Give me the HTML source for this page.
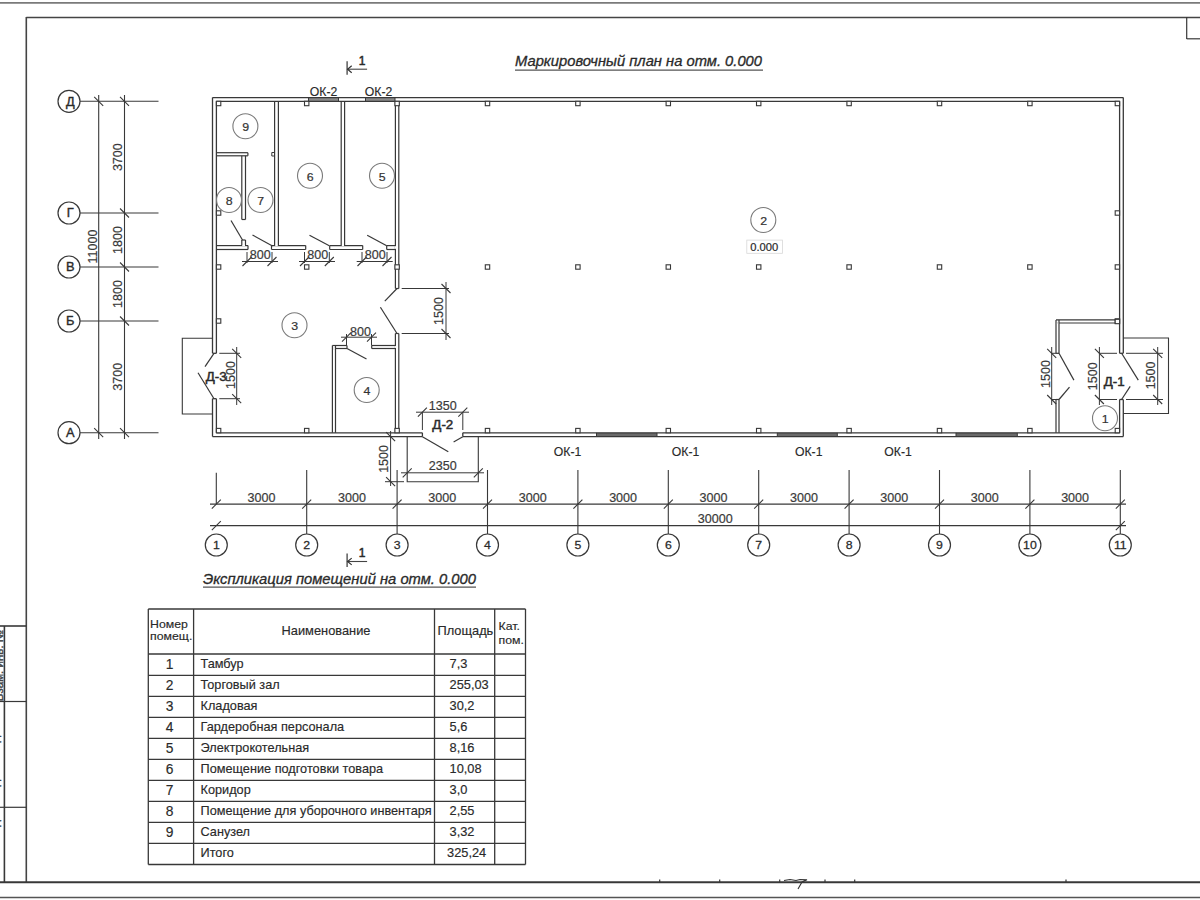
<!DOCTYPE html>
<html><head><meta charset="utf-8"><style>
html,body{margin:0;padding:0;background:#fff;width:1200px;height:900px;overflow:hidden}
svg{display:block}
text{font-family:"Liberation Sans",sans-serif}
</style></head><body>
<svg width="1200" height="900" viewBox="0 0 1200 900">
<rect width="1200" height="900" fill="#fff"/>
<line x1="0.0" y1="2.8" x2="1200.0" y2="2.8" stroke="#7a7a7a" stroke-width="1.8"/>
<line x1="26.3" y1="17.0" x2="26.3" y2="882.2" stroke="#444" stroke-width="1.6"/>
<line x1="26.3" y1="17.5" x2="1200.0" y2="17.5" stroke="#444" stroke-width="1.6"/>
<line x1="0.0" y1="882.2" x2="1200.0" y2="882.2" stroke="#383838" stroke-width="1.9"/>
<line x1="0.0" y1="897.5" x2="1200.0" y2="897.5" stroke="#555" stroke-width="1.4"/>
<line x1="1186.7" y1="17.0" x2="1186.7" y2="39.0" stroke="#383838" stroke-width="1.2"/>
<line x1="1186.7" y1="38.8" x2="1200.0" y2="38.8" stroke="#383838" stroke-width="1.2"/>
<line x1="0.0" y1="626.0" x2="26.3" y2="626.0" stroke="#383838" stroke-width="1.6"/>
<line x1="0.0" y1="701.5" x2="26.3" y2="701.5" stroke="#383838" stroke-width="1.2"/>
<line x1="0.0" y1="807.3" x2="26.3" y2="807.3" stroke="#383838" stroke-width="1.2"/>
<line x1="4.4" y1="626.0" x2="4.4" y2="882.0" stroke="#383838" stroke-width="1.6"/>
<text font-size="11.5" text-anchor="middle" fill="#444" stroke="#444" stroke-width="0.4" transform="translate(3.20,665.50) rotate(-90) scale(1.0,1)">Взам. инв. №</text>
<text font-size="11.5" text-anchor="middle" fill="#444" stroke="#444" stroke-width="0.4" transform="translate(-0.80,759.50) rotate(-90) scale(1.0,1)">Подпись и дата</text>
<text font-size="11.5" text-anchor="middle" fill="#444" stroke="#444" stroke-width="0.4" transform="translate(-0.80,846.00) rotate(-90) scale(1.0,1)">Инв. № подл.</text>
<line x1="659.7" y1="879.5" x2="659.7" y2="882.0" stroke="#383838" stroke-width="1.2"/>
<line x1="719.7" y1="879.5" x2="719.7" y2="882.0" stroke="#383838" stroke-width="1.2"/>
<line x1="779.7" y1="879.5" x2="779.7" y2="882.0" stroke="#383838" stroke-width="1.2"/>
<line x1="825.0" y1="879.5" x2="825.0" y2="882.0" stroke="#383838" stroke-width="1.2"/>
<line x1="854.7" y1="879.5" x2="854.7" y2="882.0" stroke="#383838" stroke-width="1.2"/>
<line x1="1066.0" y1="879.5" x2="1066.0" y2="882.0" stroke="#383838" stroke-width="1.2"/>
<path d="M784 880.5 L790 879.5 L796 880.5 L800 879.5 L807 879.8 L802 882 L798 889" stroke="#333" stroke-width="1.1" fill="none"/>
<circle cx="69.0" cy="101.3" r="11.0" stroke="#383838" stroke-width="1.2" fill="none"/>
<text font-size="12" text-anchor="middle" fill="#2a2a2a" stroke="#2a2a2a" stroke-width="0.35" transform="translate(70.30,105.50) scale(1.07,1)" >Д</text>
<line x1="80.0" y1="101.3" x2="158.5" y2="101.3" stroke="#383838" stroke-width="1.1"/>
<circle cx="69.0" cy="213.0" r="11.0" stroke="#383838" stroke-width="1.2" fill="none"/>
<text font-size="12" text-anchor="middle" fill="#2a2a2a" stroke="#2a2a2a" stroke-width="0.35" transform="translate(70.30,217.20) scale(1.07,1)" >Г</text>
<line x1="80.0" y1="213.0" x2="158.5" y2="213.0" stroke="#383838" stroke-width="1.1"/>
<circle cx="69.0" cy="267.0" r="11.0" stroke="#383838" stroke-width="1.2" fill="none"/>
<text font-size="12" text-anchor="middle" fill="#2a2a2a" stroke="#2a2a2a" stroke-width="0.35" transform="translate(70.30,271.20) scale(1.07,1)" >В</text>
<line x1="80.0" y1="267.0" x2="158.5" y2="267.0" stroke="#383838" stroke-width="1.1"/>
<circle cx="69.0" cy="321.0" r="11.0" stroke="#383838" stroke-width="1.2" fill="none"/>
<text font-size="12" text-anchor="middle" fill="#2a2a2a" stroke="#2a2a2a" stroke-width="0.35" transform="translate(70.30,325.20) scale(1.07,1)" >Б</text>
<line x1="80.0" y1="321.0" x2="158.5" y2="321.0" stroke="#383838" stroke-width="1.1"/>
<circle cx="69.0" cy="432.7" r="11.0" stroke="#383838" stroke-width="1.2" fill="none"/>
<text font-size="12" text-anchor="middle" fill="#2a2a2a" stroke="#2a2a2a" stroke-width="0.35" transform="translate(70.30,436.90) scale(1.07,1)" >А</text>
<line x1="80.0" y1="432.7" x2="158.5" y2="432.7" stroke="#383838" stroke-width="1.1"/>
<line x1="98.7" y1="95.0" x2="98.7" y2="439.0" stroke="#383838" stroke-width="1.1"/>
<line x1="124.5" y1="95.0" x2="124.5" y2="439.0" stroke="#383838" stroke-width="1.1"/>
<line x1="120.0" y1="96.8" x2="129.0" y2="105.8" stroke="#383838" stroke-width="1.1"/>
<line x1="120.0" y1="208.5" x2="129.0" y2="217.5" stroke="#383838" stroke-width="1.1"/>
<line x1="120.0" y1="262.5" x2="129.0" y2="271.5" stroke="#383838" stroke-width="1.1"/>
<line x1="120.0" y1="316.5" x2="129.0" y2="325.5" stroke="#383838" stroke-width="1.1"/>
<line x1="120.0" y1="428.2" x2="129.0" y2="437.2" stroke="#383838" stroke-width="1.1"/>
<line x1="94.2" y1="96.8" x2="103.2" y2="105.8" stroke="#383838" stroke-width="1.1"/>
<line x1="94.2" y1="428.2" x2="103.2" y2="437.2" stroke="#383838" stroke-width="1.1"/>
<text font-size="12.2" text-anchor="middle" fill="#3a3a3a" stroke="#3a3a3a" stroke-width="0.2" transform="translate(121.80,157.15) rotate(-90) scale(1.03,1)">3700</text>
<text font-size="12.2" text-anchor="middle" fill="#3a3a3a" stroke="#3a3a3a" stroke-width="0.2" transform="translate(121.80,240.00) rotate(-90) scale(1.03,1)">1800</text>
<text font-size="12.2" text-anchor="middle" fill="#3a3a3a" stroke="#3a3a3a" stroke-width="0.2" transform="translate(121.80,294.00) rotate(-90) scale(1.03,1)">1800</text>
<text font-size="12.2" text-anchor="middle" fill="#3a3a3a" stroke="#3a3a3a" stroke-width="0.2" transform="translate(121.80,376.85) rotate(-90) scale(1.03,1)">3700</text>
<text font-size="12.2" text-anchor="middle" fill="#3a3a3a" stroke="#3a3a3a" stroke-width="0.2" transform="translate(96.50,246.50) rotate(-90) scale(1.03,1)">11000</text>
<line x1="216.3" y1="472.8" x2="216.3" y2="504.1" stroke="#383838" stroke-width="1.1"/>
<line x1="211.8" y1="508.6" x2="220.8" y2="499.6" stroke="#383838" stroke-width="1.1"/>
<circle cx="216.3" cy="545.0" r="11.0" stroke="#383838" stroke-width="1.2" fill="none"/>
<text font-size="11.5" text-anchor="middle" fill="#2a2a2a" stroke="#2a2a2a" stroke-width="0.25" transform="translate(216.30,549.20) scale(1.07,1)" >1</text>
<line x1="306.7" y1="470.0" x2="306.7" y2="534.0" stroke="#383838" stroke-width="1.1"/>
<line x1="302.2" y1="508.6" x2="311.2" y2="499.6" stroke="#383838" stroke-width="1.1"/>
<circle cx="306.7" cy="545.0" r="11.0" stroke="#383838" stroke-width="1.2" fill="none"/>
<text font-size="11.5" text-anchor="middle" fill="#2a2a2a" stroke="#2a2a2a" stroke-width="0.25" transform="translate(306.70,549.20) scale(1.07,1)" >2</text>
<line x1="397.1" y1="470.0" x2="397.1" y2="534.0" stroke="#383838" stroke-width="1.1"/>
<line x1="392.6" y1="508.6" x2="401.6" y2="499.6" stroke="#383838" stroke-width="1.1"/>
<circle cx="397.1" cy="545.0" r="11.0" stroke="#383838" stroke-width="1.2" fill="none"/>
<text font-size="11.5" text-anchor="middle" fill="#2a2a2a" stroke="#2a2a2a" stroke-width="0.25" transform="translate(397.10,549.20) scale(1.07,1)" >3</text>
<line x1="487.5" y1="470.0" x2="487.5" y2="534.0" stroke="#383838" stroke-width="1.1"/>
<line x1="483.0" y1="508.6" x2="492.0" y2="499.6" stroke="#383838" stroke-width="1.1"/>
<circle cx="487.5" cy="545.0" r="11.0" stroke="#383838" stroke-width="1.2" fill="none"/>
<text font-size="11.5" text-anchor="middle" fill="#2a2a2a" stroke="#2a2a2a" stroke-width="0.25" transform="translate(487.50,549.20) scale(1.07,1)" >4</text>
<line x1="577.9" y1="470.0" x2="577.9" y2="534.0" stroke="#383838" stroke-width="1.1"/>
<line x1="573.4" y1="508.6" x2="582.4" y2="499.6" stroke="#383838" stroke-width="1.1"/>
<circle cx="577.9" cy="545.0" r="11.0" stroke="#383838" stroke-width="1.2" fill="none"/>
<text font-size="11.5" text-anchor="middle" fill="#2a2a2a" stroke="#2a2a2a" stroke-width="0.25" transform="translate(577.90,549.20) scale(1.07,1)" >5</text>
<line x1="668.3" y1="470.0" x2="668.3" y2="534.0" stroke="#383838" stroke-width="1.1"/>
<line x1="663.8" y1="508.6" x2="672.8" y2="499.6" stroke="#383838" stroke-width="1.1"/>
<circle cx="668.3" cy="545.0" r="11.0" stroke="#383838" stroke-width="1.2" fill="none"/>
<text font-size="11.5" text-anchor="middle" fill="#2a2a2a" stroke="#2a2a2a" stroke-width="0.25" transform="translate(668.30,549.20) scale(1.07,1)" >6</text>
<line x1="758.7" y1="470.0" x2="758.7" y2="534.0" stroke="#383838" stroke-width="1.1"/>
<line x1="754.2" y1="508.6" x2="763.2" y2="499.6" stroke="#383838" stroke-width="1.1"/>
<circle cx="758.7" cy="545.0" r="11.0" stroke="#383838" stroke-width="1.2" fill="none"/>
<text font-size="11.5" text-anchor="middle" fill="#2a2a2a" stroke="#2a2a2a" stroke-width="0.25" transform="translate(758.70,549.20) scale(1.07,1)" >7</text>
<line x1="849.1" y1="470.0" x2="849.1" y2="534.0" stroke="#383838" stroke-width="1.1"/>
<line x1="844.6" y1="508.6" x2="853.6" y2="499.6" stroke="#383838" stroke-width="1.1"/>
<circle cx="849.1" cy="545.0" r="11.0" stroke="#383838" stroke-width="1.2" fill="none"/>
<text font-size="11.5" text-anchor="middle" fill="#2a2a2a" stroke="#2a2a2a" stroke-width="0.25" transform="translate(849.10,549.20) scale(1.07,1)" >8</text>
<line x1="939.5" y1="470.0" x2="939.5" y2="534.0" stroke="#383838" stroke-width="1.1"/>
<line x1="935.0" y1="508.6" x2="944.0" y2="499.6" stroke="#383838" stroke-width="1.1"/>
<circle cx="939.5" cy="545.0" r="11.0" stroke="#383838" stroke-width="1.2" fill="none"/>
<text font-size="11.5" text-anchor="middle" fill="#2a2a2a" stroke="#2a2a2a" stroke-width="0.25" transform="translate(939.50,549.20) scale(1.07,1)" >9</text>
<line x1="1029.9" y1="470.0" x2="1029.9" y2="534.0" stroke="#383838" stroke-width="1.1"/>
<line x1="1025.4" y1="508.6" x2="1034.4" y2="499.6" stroke="#383838" stroke-width="1.1"/>
<circle cx="1029.9" cy="545.0" r="11.0" stroke="#383838" stroke-width="1.2" fill="none"/>
<text font-size="11.5" text-anchor="middle" fill="#2a2a2a" stroke="#2a2a2a" stroke-width="0.25" transform="translate(1029.90,549.20) scale(1.07,1)" >10</text>
<line x1="1120.3" y1="470.0" x2="1120.3" y2="534.0" stroke="#383838" stroke-width="1.1"/>
<line x1="1115.8" y1="508.6" x2="1124.8" y2="499.6" stroke="#383838" stroke-width="1.1"/>
<circle cx="1120.3" cy="545.0" r="11.0" stroke="#383838" stroke-width="1.2" fill="none"/>
<text font-size="11.5" text-anchor="middle" fill="#2a2a2a" stroke="#2a2a2a" stroke-width="0.25" transform="translate(1120.30,549.20) scale(1.07,1)" >11</text>
<line x1="210.0" y1="504.1" x2="1126.0" y2="504.1" stroke="#383838" stroke-width="1.1"/>
<line x1="210.0" y1="525.6" x2="1126.0" y2="525.6" stroke="#383838" stroke-width="1.1"/>
<line x1="211.8" y1="530.1" x2="220.8" y2="521.1" stroke="#383838" stroke-width="1.1"/>
<line x1="1115.8" y1="530.1" x2="1124.8" y2="521.1" stroke="#383838" stroke-width="1.1"/>
<text font-size="12.2" text-anchor="middle" fill="#3a3a3a" stroke="#3a3a3a" stroke-width="0.2" transform="translate(261.50,501.90) scale(1.03,1)" >3000</text>
<text font-size="12.2" text-anchor="middle" fill="#3a3a3a" stroke="#3a3a3a" stroke-width="0.2" transform="translate(351.90,501.90) scale(1.03,1)" >3000</text>
<text font-size="12.2" text-anchor="middle" fill="#3a3a3a" stroke="#3a3a3a" stroke-width="0.2" transform="translate(442.30,501.90) scale(1.03,1)" >3000</text>
<text font-size="12.2" text-anchor="middle" fill="#3a3a3a" stroke="#3a3a3a" stroke-width="0.2" transform="translate(532.70,501.90) scale(1.03,1)" >3000</text>
<text font-size="12.2" text-anchor="middle" fill="#3a3a3a" stroke="#3a3a3a" stroke-width="0.2" transform="translate(623.10,501.90) scale(1.03,1)" >3000</text>
<text font-size="12.2" text-anchor="middle" fill="#3a3a3a" stroke="#3a3a3a" stroke-width="0.2" transform="translate(713.50,501.90) scale(1.03,1)" >3000</text>
<text font-size="12.2" text-anchor="middle" fill="#3a3a3a" stroke="#3a3a3a" stroke-width="0.2" transform="translate(803.90,501.90) scale(1.03,1)" >3000</text>
<text font-size="12.2" text-anchor="middle" fill="#3a3a3a" stroke="#3a3a3a" stroke-width="0.2" transform="translate(894.30,501.90) scale(1.03,1)" >3000</text>
<text font-size="12.2" text-anchor="middle" fill="#3a3a3a" stroke="#3a3a3a" stroke-width="0.2" transform="translate(984.70,501.90) scale(1.03,1)" >3000</text>
<text font-size="12.2" text-anchor="middle" fill="#3a3a3a" stroke="#3a3a3a" stroke-width="0.2" transform="translate(1075.10,501.90) scale(1.03,1)" >3000</text>
<text font-size="12.2" text-anchor="middle" fill="#3a3a3a" stroke="#3a3a3a" stroke-width="0.2" transform="translate(715.30,522.50) scale(1.03,1)" >30000</text>
<line x1="347.1" y1="61.2" x2="347.1" y2="74.7" stroke="#444" stroke-width="1.3"/>
<line x1="347.1" y1="69.2" x2="367.1" y2="69.2" stroke="#444" stroke-width="1.1"/>
<path d="M351.7 65.8 L347.6 69.2 L351.7 72.7" stroke="#333" stroke-width="1.2" fill="none"/>
<text font-size="12" text-anchor="middle" fill="#2a2a2a" stroke="#2a2a2a" stroke-width="0.5" transform="translate(362.10,64.75) scale(1.0,1)" >1</text>
<line x1="347.1" y1="553.5" x2="347.1" y2="566.9" stroke="#444" stroke-width="1.3"/>
<line x1="347.1" y1="561.5" x2="367.1" y2="561.5" stroke="#444" stroke-width="1.1"/>
<path d="M351.7 558.1 L347.6 561.5 L351.7 564.9" stroke="#333" stroke-width="1.2" fill="none"/>
<text font-size="12" text-anchor="middle" fill="#2a2a2a" stroke="#2a2a2a" stroke-width="0.5" transform="translate(362.10,557.00) scale(1.0,1)" >1</text>
<text x="515" y="66.4" font-size="14.3" font-style="italic" fill="#2a2a2a" stroke="#2a2a2a" stroke-width="0.3" textLength="247" lengthAdjust="spacingAndGlyphs">Маркировочный план на отм. 0.000</text>
<line x1="515.0" y1="70.2" x2="763.0" y2="70.2" stroke="#555" stroke-width="1.2"/>
<text x="203" y="583.6" font-size="14" font-style="italic" fill="#2a2a2a" stroke="#2a2a2a" stroke-width="0.3" textLength="273" lengthAdjust="spacingAndGlyphs">Экспликация помещений на отм. 0.000</text>
<line x1="203.0" y1="587.2" x2="476.0" y2="587.2" stroke="#555" stroke-width="1.2"/>
<rect x="308.5" y="97.6" width="30.0" height="3.7" stroke="#383838" stroke-width="0" fill="#8a8a8a"/>
<line x1="308.5" y1="97.6" x2="308.5" y2="101.3" stroke="#383838" stroke-width="1"/>
<line x1="338.5" y1="97.6" x2="338.5" y2="101.3" stroke="#383838" stroke-width="1"/>
<rect x="365.5" y="97.6" width="29.5" height="3.7" stroke="#383838" stroke-width="0" fill="#8a8a8a"/>
<line x1="365.5" y1="97.6" x2="365.5" y2="101.3" stroke="#383838" stroke-width="1"/>
<line x1="395.0" y1="97.6" x2="395.0" y2="101.3" stroke="#383838" stroke-width="1"/>
<rect x="596.5" y="432.8" width="60.5" height="3.8" stroke="#383838" stroke-width="0" fill="#6a6a6a"/>
<line x1="596.5" y1="432.8" x2="596.5" y2="436.6" stroke="#383838" stroke-width="1"/>
<line x1="657.0" y1="432.8" x2="657.0" y2="436.6" stroke="#383838" stroke-width="1"/>
<rect x="777.3" y="432.8" width="60.0" height="3.8" stroke="#383838" stroke-width="0" fill="#6a6a6a"/>
<line x1="777.3" y1="432.8" x2="777.3" y2="436.6" stroke="#383838" stroke-width="1"/>
<line x1="837.3" y1="432.8" x2="837.3" y2="436.6" stroke="#383838" stroke-width="1"/>
<rect x="956.0" y="432.8" width="61.3" height="3.8" stroke="#383838" stroke-width="0" fill="#6a6a6a"/>
<line x1="956.0" y1="432.8" x2="956.0" y2="436.6" stroke="#383838" stroke-width="1"/>
<line x1="1017.3" y1="432.8" x2="1017.3" y2="436.6" stroke="#383838" stroke-width="1"/>
<line x1="212.5" y1="97.6" x2="1123.3" y2="97.6" stroke="#383838" stroke-width="1.3"/>
<line x1="216.4" y1="101.3" x2="1119.6" y2="101.3" stroke="#383838" stroke-width="1.3"/>
<line x1="212.5" y1="97.6" x2="212.5" y2="353.3" stroke="#383838" stroke-width="1.3"/>
<line x1="212.5" y1="398.7" x2="212.5" y2="436.6" stroke="#383838" stroke-width="1.3"/>
<line x1="216.4" y1="101.3" x2="216.4" y2="353.3" stroke="#383838" stroke-width="1.3"/>
<line x1="216.4" y1="398.7" x2="216.4" y2="432.8" stroke="#383838" stroke-width="1.3"/>
<line x1="212.5" y1="353.3" x2="216.4" y2="353.3" stroke="#383838" stroke-width="1.3"/>
<line x1="212.5" y1="398.7" x2="216.4" y2="398.7" stroke="#383838" stroke-width="1.3"/>
<line x1="212.5" y1="436.6" x2="422.4" y2="436.6" stroke="#383838" stroke-width="1.3"/>
<line x1="462.8" y1="436.6" x2="1123.3" y2="436.6" stroke="#383838" stroke-width="1.3"/>
<line x1="216.4" y1="432.8" x2="422.4" y2="432.8" stroke="#383838" stroke-width="1.3"/>
<line x1="462.8" y1="432.8" x2="1119.6" y2="432.8" stroke="#383838" stroke-width="1.3"/>
<line x1="422.4" y1="432.8" x2="422.4" y2="436.6" stroke="#383838" stroke-width="1.3"/>
<line x1="462.8" y1="432.8" x2="462.8" y2="436.6" stroke="#383838" stroke-width="1.3"/>
<line x1="1123.3" y1="97.6" x2="1123.3" y2="353.3" stroke="#383838" stroke-width="1.3"/>
<line x1="1123.3" y1="399.5" x2="1123.3" y2="436.6" stroke="#383838" stroke-width="1.3"/>
<line x1="1119.6" y1="101.3" x2="1119.6" y2="353.3" stroke="#383838" stroke-width="1.3"/>
<line x1="1119.6" y1="399.5" x2="1119.6" y2="432.8" stroke="#383838" stroke-width="1.3"/>
<line x1="1119.6" y1="353.3" x2="1123.3" y2="353.3" stroke="#383838" stroke-width="1.3"/>
<line x1="1119.6" y1="399.5" x2="1123.3" y2="399.5" stroke="#383838" stroke-width="1.3"/>
<line x1="274.6" y1="101.3" x2="274.6" y2="245.6" stroke="#383838" stroke-width="1.2"/>
<line x1="278.4" y1="101.3" x2="278.4" y2="245.6" stroke="#383838" stroke-width="1.2"/>
<line x1="341.2" y1="101.3" x2="341.2" y2="245.6" stroke="#383838" stroke-width="1.2"/>
<line x1="344.6" y1="101.3" x2="344.6" y2="245.6" stroke="#383838" stroke-width="1.2"/>
<line x1="395.4" y1="101.3" x2="395.4" y2="288.5" stroke="#383838" stroke-width="1.2"/>
<line x1="398.8" y1="101.3" x2="398.8" y2="288.5" stroke="#383838" stroke-width="1.2"/>
<line x1="395.4" y1="288.5" x2="398.8" y2="288.5" stroke="#383838" stroke-width="1.2"/>
<line x1="395.4" y1="333.5" x2="395.4" y2="432.8" stroke="#383838" stroke-width="1.2"/>
<line x1="398.8" y1="333.5" x2="398.8" y2="432.8" stroke="#383838" stroke-width="1.2"/>
<line x1="395.4" y1="333.5" x2="398.8" y2="333.5" stroke="#383838" stroke-width="1.2"/>
<line x1="241.8" y1="155.8" x2="241.8" y2="219.5" stroke="#383838" stroke-width="1.2"/>
<line x1="245.5" y1="155.8" x2="245.5" y2="219.5" stroke="#383838" stroke-width="1.2"/>
<line x1="241.8" y1="219.5" x2="245.5" y2="219.5" stroke="#383838" stroke-width="1.2"/>
<line x1="216.4" y1="152.7" x2="247.9" y2="152.7" stroke="#383838" stroke-width="1.2"/>
<line x1="216.4" y1="155.8" x2="247.9" y2="155.8" stroke="#383838" stroke-width="1.2"/>
<line x1="247.9" y1="152.7" x2="247.9" y2="155.8" stroke="#383838" stroke-width="1.2"/>
<line x1="241.8" y1="240.0" x2="241.8" y2="245.6" stroke="#383838" stroke-width="1.2"/>
<line x1="245.5" y1="240.0" x2="245.5" y2="245.6" stroke="#383838" stroke-width="1.2"/>
<line x1="241.8" y1="240.0" x2="245.5" y2="240.0" stroke="#383838" stroke-width="1.2"/>
<line x1="216.4" y1="245.6" x2="248.0" y2="245.6" stroke="#383838" stroke-width="1.2"/>
<line x1="216.4" y1="249.5" x2="248.0" y2="249.5" stroke="#383838" stroke-width="1.2"/>
<line x1="248.0" y1="245.6" x2="248.0" y2="249.5" stroke="#383838" stroke-width="1.2"/>
<line x1="271.5" y1="245.6" x2="305.7" y2="245.6" stroke="#383838" stroke-width="1.2"/>
<line x1="271.5" y1="249.5" x2="305.7" y2="249.5" stroke="#383838" stroke-width="1.2"/>
<line x1="271.5" y1="245.6" x2="271.5" y2="249.5" stroke="#383838" stroke-width="1.2"/>
<line x1="305.7" y1="245.6" x2="305.7" y2="249.5" stroke="#383838" stroke-width="1.2"/>
<line x1="329.7" y1="245.6" x2="362.7" y2="245.6" stroke="#383838" stroke-width="1.2"/>
<line x1="329.7" y1="249.5" x2="362.7" y2="249.5" stroke="#383838" stroke-width="1.2"/>
<line x1="329.7" y1="245.6" x2="329.7" y2="249.5" stroke="#383838" stroke-width="1.2"/>
<line x1="362.7" y1="245.6" x2="362.7" y2="249.5" stroke="#383838" stroke-width="1.2"/>
<line x1="386.7" y1="245.6" x2="395.4" y2="245.6" stroke="#383838" stroke-width="1.2"/>
<line x1="386.7" y1="249.5" x2="395.4" y2="249.5" stroke="#383838" stroke-width="1.2"/>
<line x1="386.7" y1="245.6" x2="386.7" y2="249.5" stroke="#383838" stroke-width="1.2"/>
<rect x="242.2" y="244.9" width="2.8" height="1.2" fill="#fff" stroke="none"/>
<rect x="275.2" y="244.9" width="2.6" height="1.2" fill="#fff" stroke="none"/>
<rect x="341.8" y="244.9" width="2.2" height="1.2" fill="#fff" stroke="none"/>
<rect x="394.7" y="246.2" width="1.3" height="2.6" fill="#fff" stroke="none"/>
<line x1="332.4" y1="345.5" x2="347.0" y2="345.5" stroke="#383838" stroke-width="1.2"/>
<line x1="332.4" y1="348.5" x2="347.0" y2="348.5" stroke="#383838" stroke-width="1.2"/>
<line x1="347.0" y1="345.5" x2="347.0" y2="348.5" stroke="#383838" stroke-width="1.2"/>
<line x1="371.7" y1="345.5" x2="395.4" y2="345.5" stroke="#383838" stroke-width="1.2"/>
<line x1="371.7" y1="348.5" x2="395.4" y2="348.5" stroke="#383838" stroke-width="1.2"/>
<line x1="371.7" y1="345.5" x2="371.7" y2="348.5" stroke="#383838" stroke-width="1.2"/>
<line x1="332.4" y1="345.5" x2="332.4" y2="432.8" stroke="#383838" stroke-width="1.2"/>
<line x1="335.5" y1="345.5" x2="335.5" y2="432.8" stroke="#383838" stroke-width="1.2"/>
<rect x="333.1" y="347.9" width="1.8" height="1.2" fill="#fff" stroke="none"/>
<rect x="394.7" y="346.1" width="1.3" height="1.8" fill="#fff" stroke="none"/>
<line x1="1056.0" y1="319.9" x2="1056.0" y2="353.3" stroke="#383838" stroke-width="1.2"/>
<line x1="1059.0" y1="319.9" x2="1059.0" y2="353.3" stroke="#383838" stroke-width="1.2"/>
<line x1="1056.0" y1="353.3" x2="1059.0" y2="353.3" stroke="#383838" stroke-width="1.2"/>
<line x1="1056.0" y1="399.5" x2="1056.0" y2="432.8" stroke="#383838" stroke-width="1.2"/>
<line x1="1059.0" y1="399.5" x2="1059.0" y2="432.8" stroke="#383838" stroke-width="1.2"/>
<line x1="1056.0" y1="399.5" x2="1059.0" y2="399.5" stroke="#383838" stroke-width="1.2"/>
<line x1="1056.0" y1="319.9" x2="1119.6" y2="319.9" stroke="#383838" stroke-width="1.2"/>
<line x1="1056.0" y1="323.0" x2="1119.6" y2="323.0" stroke="#383838" stroke-width="1.2"/>
<rect x="1056.6" y="322.4" width="1.8" height="1.3" fill="#fff" stroke="none"/>
<path d="M274.6 152.5 L271.8 152.5 L271.8 156 L274.6 156" stroke="#383838" stroke-width="1" fill="none"/>
<path d="M212.5 338.3 L182.3 338.3 L182.3 414 L212.5 414" stroke="#383838" stroke-width="1.1" fill="none"/>
<path d="M407.2 436.6 L407.2 481.7 L478.3 481.7 L478.3 436.6" stroke="#383838" stroke-width="1.1" fill="none"/>
<path d="M1123.3 338 L1168.5 338 L1168.5 413.5 L1123.3 413.5" stroke="#383838" stroke-width="1.1" fill="none"/>
<line x1="214.0" y1="353.3" x2="205.0" y2="366.7" stroke="#383838" stroke-width="1.2"/>
<line x1="214.0" y1="398.7" x2="198.0" y2="372.7" stroke="#383838" stroke-width="1.2"/>
<line x1="422.4" y1="436.7" x2="448.3" y2="451.7" stroke="#383838" stroke-width="1.2"/>
<line x1="462.8" y1="436.7" x2="453.6" y2="442.0" stroke="#383838" stroke-width="1.2"/>
<line x1="1121.6" y1="353.3" x2="1138.3" y2="380.1" stroke="#383838" stroke-width="1.2"/>
<line x1="1121.6" y1="399.5" x2="1130.2" y2="386.3" stroke="#383838" stroke-width="1.2"/>
<line x1="1059.0" y1="353.3" x2="1073.9" y2="380.1" stroke="#383838" stroke-width="1.2"/>
<line x1="1059.0" y1="399.5" x2="1069.5" y2="387.1" stroke="#383838" stroke-width="1.2"/>
<line x1="397.0" y1="288.5" x2="384.8" y2="301.2" stroke="#383838" stroke-width="1.2"/>
<line x1="397.0" y1="333.5" x2="380.4" y2="307.2" stroke="#383838" stroke-width="1.2"/>
<line x1="231.0" y1="220.5" x2="242.5" y2="240.0" stroke="#383838" stroke-width="1.2"/>
<line x1="252.5" y1="235.0" x2="272.5" y2="246.0" stroke="#383838" stroke-width="1.2"/>
<line x1="309.5" y1="235.2" x2="329.3" y2="245.7" stroke="#383838" stroke-width="1.2"/>
<line x1="367.2" y1="235.2" x2="386.7" y2="245.7" stroke="#383838" stroke-width="1.2"/>
<line x1="347.0" y1="348.5" x2="366.5" y2="359.0" stroke="#383838" stroke-width="1.2"/>
<line x1="242.0" y1="261.5" x2="278.0" y2="261.5" stroke="#383838" stroke-width="1.0"/>
<line x1="242.5" y1="266.0" x2="251.5" y2="257.0" stroke="#383838" stroke-width="1.1"/>
<line x1="267.5" y1="266.0" x2="276.5" y2="257.0" stroke="#383838" stroke-width="1.1"/>
<line x1="247.0" y1="252.0" x2="247.0" y2="263.0" stroke="#383838" stroke-width="1.0"/>
<line x1="272.0" y1="252.0" x2="272.0" y2="263.0" stroke="#383838" stroke-width="1.0"/>
<text font-size="12.2" text-anchor="middle" fill="#3a3a3a" stroke="#3a3a3a" stroke-width="0.2" transform="translate(260.30,259.30) scale(1.03,1)" >800</text>
<line x1="299.0" y1="261.5" x2="335.0" y2="261.5" stroke="#383838" stroke-width="1.0"/>
<line x1="300.0" y1="266.0" x2="309.0" y2="257.0" stroke="#383838" stroke-width="1.1"/>
<line x1="324.8" y1="266.0" x2="333.8" y2="257.0" stroke="#383838" stroke-width="1.1"/>
<line x1="304.5" y1="252.0" x2="304.5" y2="263.0" stroke="#383838" stroke-width="1.0"/>
<line x1="329.3" y1="252.0" x2="329.3" y2="263.0" stroke="#383838" stroke-width="1.0"/>
<text font-size="12.2" text-anchor="middle" fill="#3a3a3a" stroke="#3a3a3a" stroke-width="0.2" transform="translate(317.70,259.30) scale(1.03,1)" >800</text>
<line x1="356.7" y1="261.5" x2="392.7" y2="261.5" stroke="#383838" stroke-width="1.0"/>
<line x1="357.5" y1="266.0" x2="366.5" y2="257.0" stroke="#383838" stroke-width="1.1"/>
<line x1="382.5" y1="266.0" x2="391.5" y2="257.0" stroke="#383838" stroke-width="1.1"/>
<line x1="362.0" y1="252.0" x2="362.0" y2="263.0" stroke="#383838" stroke-width="1.0"/>
<line x1="387.0" y1="252.0" x2="387.0" y2="263.0" stroke="#383838" stroke-width="1.0"/>
<text font-size="12.2" text-anchor="middle" fill="#3a3a3a" stroke="#3a3a3a" stroke-width="0.2" transform="translate(375.30,259.30) scale(1.03,1)" >800</text>
<line x1="341.0" y1="337.2" x2="377.0" y2="337.2" stroke="#383838" stroke-width="1.0"/>
<line x1="342.0" y1="341.7" x2="351.0" y2="332.7" stroke="#383838" stroke-width="1.1"/>
<line x1="367.0" y1="341.7" x2="376.0" y2="332.7" stroke="#383838" stroke-width="1.1"/>
<text font-size="12.2" text-anchor="middle" fill="#3a3a3a" stroke="#3a3a3a" stroke-width="0.2" transform="translate(360.50,335.50) scale(1.03,1)" >800</text>
<line x1="346.5" y1="334.0" x2="346.5" y2="345.5" stroke="#383838" stroke-width="1.0"/>
<line x1="371.5" y1="334.0" x2="371.5" y2="345.5" stroke="#383838" stroke-width="1.0"/>
<line x1="401.7" y1="288.5" x2="449.0" y2="288.5" stroke="#383838" stroke-width="1.0"/>
<line x1="401.7" y1="333.5" x2="449.0" y2="333.5" stroke="#383838" stroke-width="1.0"/>
<line x1="446.0" y1="282.0" x2="446.0" y2="340.0" stroke="#383838" stroke-width="1.0"/>
<line x1="441.5" y1="284.0" x2="450.5" y2="293.0" stroke="#383838" stroke-width="1.1"/>
<line x1="441.5" y1="329.0" x2="450.5" y2="338.0" stroke="#383838" stroke-width="1.1"/>
<text font-size="12.2" text-anchor="middle" fill="#3a3a3a" stroke="#3a3a3a" stroke-width="0.2" transform="translate(443.20,311.00) rotate(-90) scale(1.03,1)">1500</text>
<line x1="219.3" y1="353.3" x2="240.0" y2="353.3" stroke="#383838" stroke-width="1.0"/>
<line x1="219.3" y1="398.7" x2="240.0" y2="398.7" stroke="#383838" stroke-width="1.0"/>
<line x1="236.7" y1="347.0" x2="236.7" y2="405.0" stroke="#383838" stroke-width="1.0"/>
<line x1="232.2" y1="348.8" x2="241.2" y2="357.8" stroke="#383838" stroke-width="1.1"/>
<line x1="232.2" y1="394.2" x2="241.2" y2="403.2" stroke="#383838" stroke-width="1.1"/>
<text font-size="12.2" text-anchor="middle" fill="#3a3a3a" stroke="#3a3a3a" stroke-width="0.2" transform="translate(234.70,375.00) rotate(-90) scale(1.03,1)">1500</text>
<text font-size="12.5" text-anchor="middle" fill="#2a2a2a" stroke="#2a2a2a" stroke-width="0.45" transform="translate(216.20,381.00) scale(1.07,1)" >Д-3</text>
<line x1="416.0" y1="412.2" x2="469.0" y2="412.2" stroke="#383838" stroke-width="1.0"/>
<line x1="417.9" y1="416.7" x2="426.9" y2="407.7" stroke="#383838" stroke-width="1.1"/>
<line x1="458.3" y1="416.7" x2="467.3" y2="407.7" stroke="#383838" stroke-width="1.1"/>
<line x1="422.4" y1="412.0" x2="422.4" y2="430.0" stroke="#383838" stroke-width="1.0"/>
<line x1="462.8" y1="412.0" x2="462.8" y2="430.0" stroke="#383838" stroke-width="1.0"/>
<text font-size="12.2" text-anchor="middle" fill="#3a3a3a" stroke="#3a3a3a" stroke-width="0.2" transform="translate(442.80,409.70) scale(1.03,1)" >1350</text>
<text font-size="12.5" text-anchor="middle" fill="#2a2a2a" stroke="#2a2a2a" stroke-width="0.45" transform="translate(442.80,429.20) scale(1.07,1)" >Д-2</text>
<line x1="401.0" y1="472.8" x2="484.0" y2="472.8" stroke="#383838" stroke-width="1.0"/>
<line x1="402.7" y1="477.3" x2="411.7" y2="468.3" stroke="#383838" stroke-width="1.1"/>
<line x1="473.8" y1="477.3" x2="482.8" y2="468.3" stroke="#383838" stroke-width="1.1"/>
<text font-size="12.2" text-anchor="middle" fill="#3a3a3a" stroke="#3a3a3a" stroke-width="0.2" transform="translate(442.80,469.80) scale(1.03,1)" >2350</text>
<line x1="390.6" y1="431.0" x2="390.6" y2="486.0" stroke="#383838" stroke-width="1.0"/>
<line x1="386.1" y1="432.1" x2="395.1" y2="441.1" stroke="#383838" stroke-width="1.1"/>
<line x1="386.1" y1="477.2" x2="395.1" y2="486.2" stroke="#383838" stroke-width="1.1"/>
<line x1="385.0" y1="481.7" x2="404.0" y2="481.7" stroke="#383838" stroke-width="1.0"/>
<text font-size="12.2" text-anchor="middle" fill="#3a3a3a" stroke="#3a3a3a" stroke-width="0.2" transform="translate(388.40,458.90) rotate(-90) scale(1.03,1)">1500</text>
<line x1="1051.7" y1="347.0" x2="1051.7" y2="405.0" stroke="#383838" stroke-width="1.0"/>
<line x1="1047.2" y1="348.8" x2="1056.2" y2="357.8" stroke="#383838" stroke-width="1.1"/>
<line x1="1047.2" y1="395.0" x2="1056.2" y2="404.0" stroke="#383838" stroke-width="1.1"/>
<line x1="1099.4" y1="347.0" x2="1099.4" y2="405.0" stroke="#383838" stroke-width="1.0"/>
<line x1="1094.9" y1="348.8" x2="1103.9" y2="357.8" stroke="#383838" stroke-width="1.1"/>
<line x1="1094.9" y1="395.0" x2="1103.9" y2="404.0" stroke="#383838" stroke-width="1.1"/>
<line x1="1157.7" y1="347.0" x2="1157.7" y2="405.0" stroke="#383838" stroke-width="1.0"/>
<line x1="1153.2" y1="348.8" x2="1162.2" y2="357.8" stroke="#383838" stroke-width="1.1"/>
<line x1="1153.2" y1="395.0" x2="1162.2" y2="404.0" stroke="#383838" stroke-width="1.1"/>
<line x1="1099.4" y1="353.3" x2="1117.0" y2="353.3" stroke="#383838" stroke-width="1.0"/>
<line x1="1099.4" y1="399.5" x2="1117.0" y2="399.5" stroke="#383838" stroke-width="1.0"/>
<line x1="1126.0" y1="353.3" x2="1163.0" y2="353.3" stroke="#383838" stroke-width="1.0"/>
<line x1="1126.0" y1="399.5" x2="1163.0" y2="399.5" stroke="#383838" stroke-width="1.0"/>
<line x1="1051.7" y1="353.3" x2="1056.0" y2="353.3" stroke="#383838" stroke-width="1.0"/>
<line x1="1051.7" y1="399.5" x2="1056.0" y2="399.5" stroke="#383838" stroke-width="1.0"/>
<text font-size="12.2" text-anchor="middle" fill="#3a3a3a" stroke="#3a3a3a" stroke-width="0.2" transform="translate(1049.90,374.00) rotate(-90) scale(1.03,1)">1500</text>
<text font-size="12.2" text-anchor="middle" fill="#3a3a3a" stroke="#3a3a3a" stroke-width="0.2" transform="translate(1096.90,376.20) rotate(-90) scale(1.03,1)">1500</text>
<text font-size="12.2" text-anchor="middle" fill="#3a3a3a" stroke="#3a3a3a" stroke-width="0.2" transform="translate(1155.20,375.40) rotate(-90) scale(1.03,1)">1500</text>
<text font-size="12.5" text-anchor="middle" fill="#2a2a2a" stroke="#2a2a2a" stroke-width="0.45" transform="translate(1114.20,386.30) scale(1.07,1)" >Д-1</text>
<text font-size="12" text-anchor="middle" fill="#2a2a2a" stroke="#2a2a2a" stroke-width="0.15" transform="translate(323.50,95.80) scale(1.02,1)" >ОК-2</text>
<text font-size="12" text-anchor="middle" fill="#2a2a2a" stroke="#2a2a2a" stroke-width="0.15" transform="translate(378.60,95.80) scale(1.02,1)" >ОК-2</text>
<text font-size="12" text-anchor="middle" fill="#2a2a2a" stroke="#2a2a2a" stroke-width="0.15" transform="translate(567.50,455.70) scale(1.02,1)" >ОК-1</text>
<text font-size="12" text-anchor="middle" fill="#2a2a2a" stroke="#2a2a2a" stroke-width="0.15" transform="translate(685.50,455.70) scale(1.02,1)" >ОК-1</text>
<text font-size="12" text-anchor="middle" fill="#2a2a2a" stroke="#2a2a2a" stroke-width="0.15" transform="translate(808.70,455.70) scale(1.02,1)" >ОК-1</text>
<text font-size="12" text-anchor="middle" fill="#2a2a2a" stroke="#2a2a2a" stroke-width="0.15" transform="translate(898.00,455.70) scale(1.02,1)" >ОК-1</text>
<rect x="216.4" y="101.3" width="4.4" height="4.4" stroke="#383838" stroke-width="1.1" fill="#fff"/>
<rect x="216.4" y="428.4" width="4.4" height="4.4" stroke="#383838" stroke-width="1.1" fill="#fff"/>
<rect x="216.4" y="264.8" width="4.4" height="4.4" stroke="#383838" stroke-width="1.1" fill="#fff"/>
<rect x="304.5" y="101.3" width="4.4" height="4.4" stroke="#383838" stroke-width="1.1" fill="#fff"/>
<rect x="304.5" y="428.4" width="4.4" height="4.4" stroke="#383838" stroke-width="1.1" fill="#fff"/>
<rect x="304.5" y="264.8" width="4.4" height="4.4" stroke="#383838" stroke-width="1.1" fill="#fff"/>
<rect x="394.9" y="101.3" width="4.4" height="4.4" stroke="#383838" stroke-width="1.1" fill="#fff"/>
<rect x="394.9" y="428.4" width="4.4" height="4.4" stroke="#383838" stroke-width="1.1" fill="#fff"/>
<rect x="394.9" y="264.8" width="4.4" height="4.4" stroke="#383838" stroke-width="1.1" fill="#fff"/>
<rect x="485.3" y="101.3" width="4.4" height="4.4" stroke="#383838" stroke-width="1.1" fill="#fff"/>
<rect x="485.3" y="428.4" width="4.4" height="4.4" stroke="#383838" stroke-width="1.1" fill="#fff"/>
<rect x="485.3" y="264.8" width="4.4" height="4.4" stroke="#383838" stroke-width="1.1" fill="#fff"/>
<rect x="575.7" y="101.3" width="4.4" height="4.4" stroke="#383838" stroke-width="1.1" fill="#fff"/>
<rect x="575.7" y="428.4" width="4.4" height="4.4" stroke="#383838" stroke-width="1.1" fill="#fff"/>
<rect x="575.7" y="264.8" width="4.4" height="4.4" stroke="#383838" stroke-width="1.1" fill="#fff"/>
<rect x="666.1" y="101.3" width="4.4" height="4.4" stroke="#383838" stroke-width="1.1" fill="#fff"/>
<rect x="666.1" y="428.4" width="4.4" height="4.4" stroke="#383838" stroke-width="1.1" fill="#fff"/>
<rect x="666.1" y="264.8" width="4.4" height="4.4" stroke="#383838" stroke-width="1.1" fill="#fff"/>
<rect x="756.5" y="101.3" width="4.4" height="4.4" stroke="#383838" stroke-width="1.1" fill="#fff"/>
<rect x="756.5" y="428.4" width="4.4" height="4.4" stroke="#383838" stroke-width="1.1" fill="#fff"/>
<rect x="756.5" y="264.8" width="4.4" height="4.4" stroke="#383838" stroke-width="1.1" fill="#fff"/>
<rect x="846.9" y="101.3" width="4.4" height="4.4" stroke="#383838" stroke-width="1.1" fill="#fff"/>
<rect x="846.9" y="428.4" width="4.4" height="4.4" stroke="#383838" stroke-width="1.1" fill="#fff"/>
<rect x="846.9" y="264.8" width="4.4" height="4.4" stroke="#383838" stroke-width="1.1" fill="#fff"/>
<rect x="937.3" y="101.3" width="4.4" height="4.4" stroke="#383838" stroke-width="1.1" fill="#fff"/>
<rect x="937.3" y="428.4" width="4.4" height="4.4" stroke="#383838" stroke-width="1.1" fill="#fff"/>
<rect x="937.3" y="264.8" width="4.4" height="4.4" stroke="#383838" stroke-width="1.1" fill="#fff"/>
<rect x="1027.7" y="101.3" width="4.4" height="4.4" stroke="#383838" stroke-width="1.1" fill="#fff"/>
<rect x="1027.7" y="428.4" width="4.4" height="4.4" stroke="#383838" stroke-width="1.1" fill="#fff"/>
<rect x="1027.7" y="264.8" width="4.4" height="4.4" stroke="#383838" stroke-width="1.1" fill="#fff"/>
<rect x="1115.2" y="101.3" width="4.4" height="4.4" stroke="#383838" stroke-width="1.1" fill="#fff"/>
<rect x="1115.2" y="428.4" width="4.4" height="4.4" stroke="#383838" stroke-width="1.1" fill="#fff"/>
<rect x="1115.2" y="264.8" width="4.4" height="4.4" stroke="#383838" stroke-width="1.1" fill="#fff"/>
<rect x="216.4" y="210.8" width="4.4" height="4.4" stroke="#383838" stroke-width="1.1" fill="#fff"/>
<rect x="1115.2" y="210.8" width="4.4" height="4.4" stroke="#383838" stroke-width="1.1" fill="#fff"/>
<rect x="216.4" y="318.8" width="4.4" height="4.4" stroke="#383838" stroke-width="1.1" fill="#fff"/>
<rect x="1115.2" y="318.8" width="4.4" height="4.4" stroke="#383838" stroke-width="1.1" fill="#fff"/>
<rect x="1115.2" y="319.3" width="4.4" height="4.4" stroke="#383838" stroke-width="1.1" fill="#fff"/>
<circle cx="245.4" cy="126.3" r="12.5" stroke="#7a7a7a" stroke-width="1.1" fill="none"/>
<text font-size="11.8" text-anchor="middle" fill="#333" stroke="#333" stroke-width="0.2" transform="translate(245.70,131.10) scale(1.05,1)" >9</text>
<circle cx="229.0" cy="200.0" r="12.5" stroke="#7a7a7a" stroke-width="1.1" fill="none"/>
<text font-size="11.8" text-anchor="middle" fill="#333" stroke="#333" stroke-width="0.2" transform="translate(229.30,204.80) scale(1.05,1)" >8</text>
<circle cx="260.5" cy="200.0" r="12.5" stroke="#7a7a7a" stroke-width="1.1" fill="none"/>
<text font-size="11.8" text-anchor="middle" fill="#333" stroke="#333" stroke-width="0.2" transform="translate(260.80,204.80) scale(1.05,1)" >7</text>
<circle cx="310.0" cy="175.8" r="12.5" stroke="#7a7a7a" stroke-width="1.1" fill="none"/>
<text font-size="11.8" text-anchor="middle" fill="#333" stroke="#333" stroke-width="0.2" transform="translate(310.30,180.60) scale(1.05,1)" >6</text>
<circle cx="382.0" cy="175.8" r="12.5" stroke="#7a7a7a" stroke-width="1.1" fill="none"/>
<text font-size="11.8" text-anchor="middle" fill="#333" stroke="#333" stroke-width="0.2" transform="translate(382.30,180.60) scale(1.05,1)" >5</text>
<circle cx="294.5" cy="325.2" r="12.5" stroke="#7a7a7a" stroke-width="1.1" fill="none"/>
<text font-size="11.8" text-anchor="middle" fill="#333" stroke="#333" stroke-width="0.2" transform="translate(294.80,330.00) scale(1.05,1)" >3</text>
<circle cx="366.7" cy="390.0" r="12.5" stroke="#7a7a7a" stroke-width="1.1" fill="none"/>
<text font-size="11.8" text-anchor="middle" fill="#333" stroke="#333" stroke-width="0.2" transform="translate(367.00,394.80) scale(1.05,1)" >4</text>
<circle cx="763.3" cy="220.0" r="12.5" stroke="#7a7a7a" stroke-width="1.1" fill="none"/>
<text font-size="11.8" text-anchor="middle" fill="#333" stroke="#333" stroke-width="0.2" transform="translate(763.60,224.80) scale(1.05,1)" >2</text>
<circle cx="1105.0" cy="418.2" r="12.5" stroke="#7a7a7a" stroke-width="1.1" fill="none"/>
<text font-size="11.8" text-anchor="middle" fill="#333" stroke="#333" stroke-width="0.2" transform="translate(1105.30,423.00) scale(1.05,1)" >1</text>
<rect x="746.8" y="240.1" width="35.8" height="13.2" stroke="#d8d8d8" stroke-width="0.8" fill="none"/>
<text font-size="11.2" text-anchor="middle" fill="#2a2a2a" stroke="#2a2a2a" stroke-width="0.2" transform="translate(764.20,251.00) scale(1.0,1)" >0.000</text>
<line x1="148.3" y1="609.0" x2="148.3" y2="864.5" stroke="#383838" stroke-width="1.3"/>
<line x1="193.6" y1="609.0" x2="193.6" y2="864.5" stroke="#383838" stroke-width="1.3"/>
<line x1="434.5" y1="609.0" x2="434.5" y2="864.5" stroke="#383838" stroke-width="1.3"/>
<line x1="494.7" y1="609.0" x2="494.7" y2="864.5" stroke="#383838" stroke-width="1.3"/>
<line x1="525.5" y1="609.0" x2="525.5" y2="864.5" stroke="#383838" stroke-width="1.3"/>
<line x1="148.3" y1="609.0" x2="525.5" y2="609.0" stroke="#383838" stroke-width="1.3"/>
<line x1="148.3" y1="654.0" x2="525.5" y2="654.0" stroke="#383838" stroke-width="1.3"/>
<line x1="148.3" y1="675.3" x2="525.5" y2="675.3" stroke="#383838" stroke-width="1.3"/>
<line x1="148.3" y1="696.3" x2="525.5" y2="696.3" stroke="#383838" stroke-width="1.3"/>
<line x1="148.3" y1="717.3" x2="525.5" y2="717.3" stroke="#383838" stroke-width="1.3"/>
<line x1="148.3" y1="738.3" x2="525.5" y2="738.3" stroke="#383838" stroke-width="1.3"/>
<line x1="148.3" y1="759.3" x2="525.5" y2="759.3" stroke="#383838" stroke-width="1.3"/>
<line x1="148.3" y1="780.3" x2="525.5" y2="780.3" stroke="#383838" stroke-width="1.3"/>
<line x1="148.3" y1="801.3" x2="525.5" y2="801.3" stroke="#383838" stroke-width="1.3"/>
<line x1="148.3" y1="822.3" x2="525.5" y2="822.3" stroke="#383838" stroke-width="1.3"/>
<line x1="148.3" y1="843.3" x2="525.5" y2="843.3" stroke="#383838" stroke-width="1.3"/>
<line x1="148.3" y1="864.5" x2="525.5" y2="864.5" stroke="#383838" stroke-width="1.3"/>
<text font-size="10.9" text-anchor="start" fill="#2a2a2a" stroke="#2a2a2a" stroke-width="0.15" transform="translate(150.00,627.90) scale(1.13,1)" >Номер</text>
<text font-size="10.9" text-anchor="start" fill="#2a2a2a" stroke="#2a2a2a" stroke-width="0.15" transform="translate(150.00,640.40) scale(1.13,1)" >помещ.</text>
<text font-size="12" text-anchor="middle" fill="#2a2a2a" stroke="#2a2a2a" stroke-width="0.15" transform="translate(326.00,635.30) scale(1.07,1)" >Наименование</text>
<text font-size="12" text-anchor="start" fill="#2a2a2a" stroke="#2a2a2a" stroke-width="0.15" transform="translate(437.50,635.30) scale(1.07,1)" >Площадь</text>
<text font-size="10.9" text-anchor="start" fill="#2a2a2a" stroke="#2a2a2a" stroke-width="0.15" transform="translate(498.50,630.00) scale(1.13,1)" >Кат.</text>
<text font-size="10.9" text-anchor="start" fill="#2a2a2a" stroke="#2a2a2a" stroke-width="0.15" transform="translate(498.50,643.80) scale(1.13,1)" >пом.</text>
<text font-size="13.8" text-anchor="middle" fill="#2a2a2a" stroke="#2a2a2a" stroke-width="0.15" transform="translate(169.50,669.10) scale(1.0,1)" >1</text>
<text font-size="12" text-anchor="start" fill="#2a2a2a" stroke="#2a2a2a" stroke-width="0.15" transform="translate(200.50,667.80) scale(1.06,1)" >Тамбур</text>
<text font-size="12" text-anchor="start" fill="#2a2a2a" stroke="#2a2a2a" stroke-width="0.15" transform="translate(449.50,667.80) scale(1.07,1)" >7,3</text>
<text font-size="13.8" text-anchor="middle" fill="#2a2a2a" stroke="#2a2a2a" stroke-width="0.15" transform="translate(169.50,690.40) scale(1.0,1)" >2</text>
<text font-size="12" text-anchor="start" fill="#2a2a2a" stroke="#2a2a2a" stroke-width="0.15" transform="translate(200.50,689.10) scale(1.06,1)" >Торговый зал</text>
<text font-size="12" text-anchor="start" fill="#2a2a2a" stroke="#2a2a2a" stroke-width="0.15" transform="translate(449.50,689.10) scale(1.07,1)" >255,03</text>
<text font-size="13.8" text-anchor="middle" fill="#2a2a2a" stroke="#2a2a2a" stroke-width="0.15" transform="translate(169.50,711.40) scale(1.0,1)" >3</text>
<text font-size="12" text-anchor="start" fill="#2a2a2a" stroke="#2a2a2a" stroke-width="0.15" transform="translate(200.50,710.10) scale(1.06,1)" >Кладовая</text>
<text font-size="12" text-anchor="start" fill="#2a2a2a" stroke="#2a2a2a" stroke-width="0.15" transform="translate(449.50,710.10) scale(1.07,1)" >30,2</text>
<text font-size="13.8" text-anchor="middle" fill="#2a2a2a" stroke="#2a2a2a" stroke-width="0.15" transform="translate(169.50,732.40) scale(1.0,1)" >4</text>
<text font-size="12" text-anchor="start" fill="#2a2a2a" stroke="#2a2a2a" stroke-width="0.15" transform="translate(200.50,731.10) scale(1.06,1)" >Гардеробная персонала</text>
<text font-size="12" text-anchor="start" fill="#2a2a2a" stroke="#2a2a2a" stroke-width="0.15" transform="translate(449.50,731.10) scale(1.07,1)" >5,6</text>
<text font-size="13.8" text-anchor="middle" fill="#2a2a2a" stroke="#2a2a2a" stroke-width="0.15" transform="translate(169.50,753.40) scale(1.0,1)" >5</text>
<text font-size="12" text-anchor="start" fill="#2a2a2a" stroke="#2a2a2a" stroke-width="0.15" transform="translate(200.50,752.10) scale(1.06,1)" >Электрокотельная</text>
<text font-size="12" text-anchor="start" fill="#2a2a2a" stroke="#2a2a2a" stroke-width="0.15" transform="translate(449.50,752.10) scale(1.07,1)" >8,16</text>
<text font-size="13.8" text-anchor="middle" fill="#2a2a2a" stroke="#2a2a2a" stroke-width="0.15" transform="translate(169.50,774.40) scale(1.0,1)" >6</text>
<text font-size="12" text-anchor="start" fill="#2a2a2a" stroke="#2a2a2a" stroke-width="0.15" transform="translate(200.50,773.10) scale(1.06,1)" >Помещение подготовки товара</text>
<text font-size="12" text-anchor="start" fill="#2a2a2a" stroke="#2a2a2a" stroke-width="0.15" transform="translate(449.50,773.10) scale(1.07,1)" >10,08</text>
<text font-size="13.8" text-anchor="middle" fill="#2a2a2a" stroke="#2a2a2a" stroke-width="0.15" transform="translate(169.50,795.40) scale(1.0,1)" >7</text>
<text font-size="12" text-anchor="start" fill="#2a2a2a" stroke="#2a2a2a" stroke-width="0.15" transform="translate(200.50,794.10) scale(1.06,1)" >Коридор</text>
<text font-size="12" text-anchor="start" fill="#2a2a2a" stroke="#2a2a2a" stroke-width="0.15" transform="translate(449.50,794.10) scale(1.07,1)" >3,0</text>
<text font-size="13.8" text-anchor="middle" fill="#2a2a2a" stroke="#2a2a2a" stroke-width="0.15" transform="translate(169.50,816.40) scale(1.0,1)" >8</text>
<text font-size="12" text-anchor="start" fill="#2a2a2a" stroke="#2a2a2a" stroke-width="0.15" transform="translate(200.50,815.10) scale(1.06,1)" >Помещение для уборочного инвентаря</text>
<text font-size="12" text-anchor="start" fill="#2a2a2a" stroke="#2a2a2a" stroke-width="0.15" transform="translate(449.50,815.10) scale(1.07,1)" >2,55</text>
<text font-size="13.8" text-anchor="middle" fill="#2a2a2a" stroke="#2a2a2a" stroke-width="0.15" transform="translate(169.50,837.40) scale(1.0,1)" >9</text>
<text font-size="12" text-anchor="start" fill="#2a2a2a" stroke="#2a2a2a" stroke-width="0.15" transform="translate(200.50,836.10) scale(1.06,1)" >Санузел</text>
<text font-size="12" text-anchor="start" fill="#2a2a2a" stroke="#2a2a2a" stroke-width="0.15" transform="translate(449.50,836.10) scale(1.07,1)" >3,32</text>
<text font-size="12" text-anchor="start" fill="#2a2a2a" stroke="#2a2a2a" stroke-width="0.15" transform="translate(200.50,857.10) scale(1.06,1)" >Итого</text>
<text font-size="12" text-anchor="start" fill="#2a2a2a" stroke="#2a2a2a" stroke-width="0.15" transform="translate(447.00,857.10) scale(1.07,1)" >325,24</text>
</svg>
</body></html>
